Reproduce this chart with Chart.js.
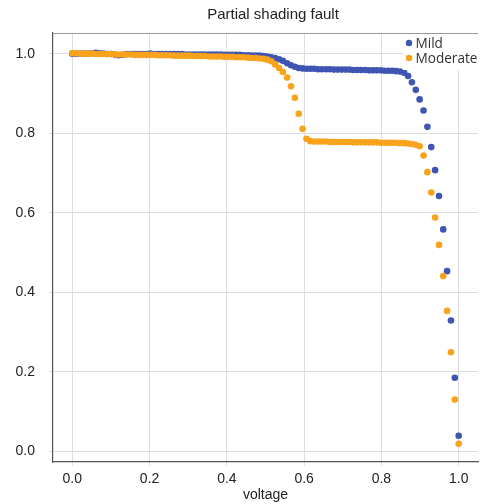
<!DOCTYPE html>
<html>
<head>
<meta charset="utf-8">
<script src="https://cdn.jsdelivr.net/npm/chart.js@4"></script>
<style>
  html, body { margin: 0; padding: 0; background: #fff; }
  #wrap { width: 482px; height: 504px; }
</style>
</head>
<body>
<div id="wrap"><canvas id="ivChart" width="482" height="504"></canvas></div>
<script>
// normalised voltage (100 samples)
const voltage = [
  0.000, 0.010, 0.020, 0.030, 0.040, 0.051, 0.061, 0.071, 0.081, 0.091,
  0.101, 0.111, 0.121, 0.131, 0.141, 0.152, 0.162, 0.172, 0.182, 0.192,
  0.202, 0.212, 0.222, 0.232, 0.242, 0.253, 0.263, 0.273, 0.283, 0.293,
  0.303, 0.313, 0.323, 0.333, 0.343, 0.354, 0.364, 0.374, 0.384, 0.394,
  0.404, 0.414, 0.424, 0.434, 0.444, 0.455, 0.465, 0.475, 0.485, 0.495,
  0.505, 0.515, 0.525, 0.535, 0.545, 0.556, 0.566, 0.576, 0.586, 0.596,
  0.606, 0.616, 0.626, 0.636, 0.646, 0.657, 0.667, 0.677, 0.687, 0.697,
  0.707, 0.717, 0.727, 0.737, 0.747, 0.758, 0.768, 0.778, 0.788, 0.798,
  0.808, 0.818, 0.828, 0.838, 0.848, 0.859, 0.869, 0.879, 0.889, 0.899,
  0.909, 0.919, 0.929, 0.939, 0.949, 0.960, 0.970, 0.980, 0.990, 1.000
];

const mild = [
  1.000, 1.000, 1.000, 1.000, 1.000, 1.001, 1.002, 1.001, 1.000, 0.999,
  0.999, 0.997, 0.996, 0.997, 0.999, 0.999, 0.999, 0.999, 0.999, 0.999,
  1.000, 0.999, 0.999, 0.999, 0.999, 0.999, 0.999, 0.999, 0.999, 0.998,
  0.998, 0.998, 0.998, 0.998, 0.998, 0.998, 0.998, 0.998, 0.998, 0.997,
  0.997, 0.997, 0.997, 0.997, 0.996, 0.996, 0.995, 0.995, 0.995, 0.994,
  0.993, 0.991, 0.989, 0.986, 0.982, 0.976, 0.971, 0.967, 0.964, 0.963,
  0.962, 0.962, 0.962, 0.961, 0.961, 0.961, 0.961, 0.960, 0.960, 0.960,
  0.960, 0.960, 0.959, 0.959, 0.959, 0.959, 0.958, 0.958, 0.958, 0.958,
  0.957, 0.957, 0.957, 0.956, 0.955, 0.952, 0.944, 0.928, 0.909, 0.885,
  0.857, 0.816, 0.765, 0.707, 0.642, 0.558, 0.453, 0.329, 0.185, 0.039
];

const moderate = [
  1.001, 1.001, 1.000, 1.000, 1.000, 1.000, 0.999, 0.999, 0.999, 0.999,
  0.999, 0.998, 0.998, 0.998, 0.998, 0.998, 0.997, 0.997, 0.997, 0.997,
  0.997, 0.997, 0.996, 0.996, 0.996, 0.996, 0.995, 0.995, 0.995, 0.995,
  0.995, 0.994, 0.994, 0.994, 0.994, 0.993, 0.993, 0.993, 0.993, 0.992,
  0.992, 0.992, 0.991, 0.991, 0.991, 0.990, 0.989, 0.989, 0.988, 0.987,
  0.985, 0.981, 0.973, 0.964, 0.954, 0.940, 0.918, 0.889, 0.849, 0.811,
  0.786, 0.780, 0.779, 0.779, 0.779, 0.779, 0.778, 0.778, 0.778, 0.778,
  0.778, 0.778, 0.777, 0.777, 0.777, 0.777, 0.777, 0.777, 0.777, 0.776,
  0.776, 0.776, 0.776, 0.776, 0.775, 0.775, 0.774, 0.773, 0.771, 0.767,
  0.744, 0.702, 0.651, 0.588, 0.519, 0.441, 0.353, 0.249, 0.130, 0.019
];

const seriesNames = ["Mild", "Moderate"];
const xTicks = [0.0, 0.2, 0.4, 0.6, 0.8, 1.0];
const yTicks = [0.0, 0.2, 0.4, 0.6, 0.8, 1.0];

const BLUE = "#3f55b3";
const ORANGE = "#f9a21b";
const FONT = "'Liberation Sans', Arial, sans-serif";

function toPoints(ys) {
  return voltage.map((v, i) => ({ x: v, y: ys[i] }));
}

// title, top frame line and the legend box are drawn by hand
const decorations = {
  id: "decorations",
  afterDraw(chart) {
    const { ctx, chartArea } = chart;
    ctx.save();
    // top frame
    ctx.strokeStyle = "#9a9a9a";
    ctx.lineWidth = 1;
    ctx.beginPath();
    ctx.moveTo(chartArea.left, chartArea.top + 0.5);
    ctx.lineTo(chartArea.right, chartArea.top + 0.5);
    ctx.stroke();

    // title
    ctx.fillStyle = "#222";
    ctx.font = "15px " + FONT;
    ctx.textAlign = "center";
    ctx.textBaseline = "middle";
    ctx.fillText("Partial shading fault", 273, 15);

    // legend
    ctx.fillStyle = "#fff";
    ctx.fillRect(403, chartArea.top + 1, 80, 36);
    const colors = [BLUE, ORANGE];
    ctx.font = "13.6px 'Open Sans', sans-serif";
    ctx.textAlign = "left";
    seriesNames.forEach((name, i) => {
      const y = 43 + i * 15;
      ctx.fillStyle = colors[i];
      ctx.beginPath();
      ctx.arc(409, y, 3.2, 0, Math.PI * 2);
      ctx.fill();
      ctx.fillStyle = "#333";
      ctx.fillText(name, 415.5, y + 1);
    });
    ctx.restore();
  }
};

const ctx1 = document.getElementById("ivChart");
new Chart(ctx1, {
  type: "scatter",
  data: {
    datasets: [
      {
        label: seriesNames[0],
        data: toPoints(mild),
        backgroundColor: BLUE,
        borderColor: BLUE,
        pointRadius: 3.3,
        borderWidth: 0,
        order: 2,
      },
      {
        label: seriesNames[1],
        data: toPoints(moderate),
        backgroundColor: ORANGE,
        borderColor: ORANGE,
        pointRadius: 3.3,
        borderWidth: 0,
        order: 1,
      },
    ],
  },
  options: {
    responsive: false,
    animation: false,
    layout: { padding: { top: 33, left: 0, right: 0, bottom: 0 } },
    plugins: {
      legend: { display: false },
      title: { display: false },
      tooltip: { enabled: false },
    },
    scales: {
      x: {
        type: "linear",
        min: -0.05,
        max: 1.05,
        afterBuildTicks: (axis) => {
          axis.ticks = xTicks.map((v) => ({ value: v }));
        },
        afterFit: (axis) => {
          axis.height = 42;
        },
        grid: { color: "#dedede", tickLength: 4 },
        border: { color: "#555", width: 1.2 },
        ticks: {
          color: "#222",
          padding: 5,
          font: { family: FONT, size: 14 },
          callback: (v) => v.toFixed(1),
        },
        title: {
          display: true,
          text: "voltage",
          color: "#222",
          padding: 0,
          font: { family: FONT, size: 14 },
        },
      },
      y: {
        type: "linear",
        min: -0.027,
        max: 1.052,
        afterBuildTicks: (axis) => {
          axis.ticks = yTicks.map((v) => ({ value: v }));
        },
        afterFit: (axis) => {
          axis.width = 53;
        },
        grid: { color: "#dedede", tickLength: 4 },
        border: { color: "#555", width: 1.2 },
        ticks: {
          color: "#222",
          padding: 14,
          font: { family: FONT, size: 14 },
          callback: (v) => v.toFixed(1),
        },
      },
    },
  },
  plugins: [decorations],
});
</script>
</body>
</html>
